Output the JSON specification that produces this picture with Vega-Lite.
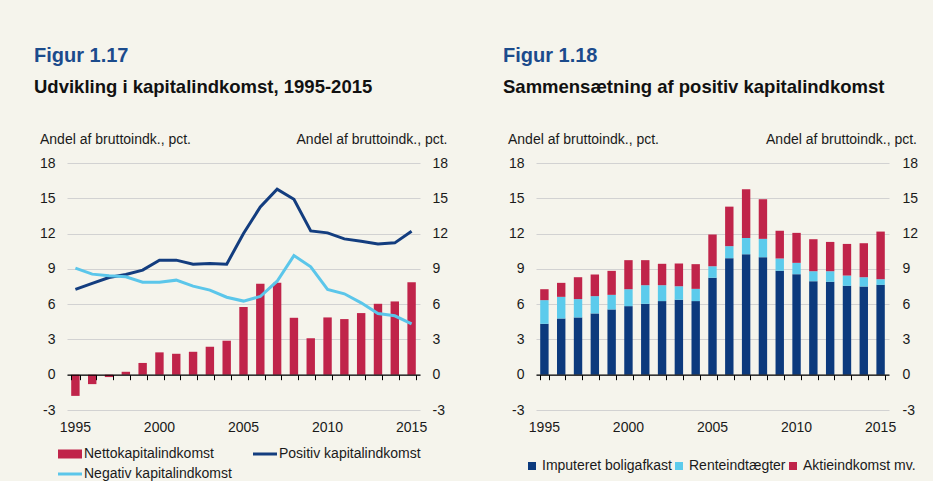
{
  "$schema": "https://vega.github.io/schema/vega-lite/v6.json",
  "background": "#f5f4ec",
  "padding": {"left": 34, "top": 45, "right": 15, "bottom": 0},
  "config": {
    "font": "Liberation Sans",
    "view": {"stroke": null},
    "axis": {"labelFont": "Liberation Sans", "titleFont": "Liberation Sans", "labelFontSize": 14, "titleFontSize": 14, "titleFontWeight": "normal", "labelColor": "#1a1a1a", "titleColor": "#1a1a1a"},
    "legend": {"labelFont": "Liberation Sans", "labelFontSize": 14, "labelColor": "#1a1a1a"},
    "title": {"anchor": "start", "frame": "group", "font": "Liberation Sans", "fontSize": 20, "fontWeight": "bold", "color": "#1b4b8c", "subtitleFont": "Liberation Sans", "subtitleFontSize": 18.5, "subtitleFontWeight": "bold", "subtitleColor": "#111111", "subtitlePadding": 12, "dx": -33, "offset": 36}
  },
  "datasets": {
    "netto": [
      {"year": 1995, "series": "Nettokapitalindkomst", "value": -1.8},
      {"year": 1996, "series": "Nettokapitalindkomst", "value": -0.8},
      {"year": 1997, "series": "Nettokapitalindkomst", "value": -0.2},
      {"year": 1998, "series": "Nettokapitalindkomst", "value": 0.25},
      {"year": 1999, "series": "Nettokapitalindkomst", "value": 1.0},
      {"year": 2000, "series": "Nettokapitalindkomst", "value": 1.9},
      {"year": 2001, "series": "Nettokapitalindkomst", "value": 1.78},
      {"year": 2002, "series": "Nettokapitalindkomst", "value": 1.95},
      {"year": 2003, "series": "Nettokapitalindkomst", "value": 2.38},
      {"year": 2004, "series": "Nettokapitalindkomst", "value": 2.89},
      {"year": 2005, "series": "Nettokapitalindkomst", "value": 5.75},
      {"year": 2006, "series": "Nettokapitalindkomst", "value": 7.73},
      {"year": 2007, "series": "Nettokapitalindkomst", "value": 7.81},
      {"year": 2008, "series": "Nettokapitalindkomst", "value": 4.84},
      {"year": 2009, "series": "Nettokapitalindkomst", "value": 3.11},
      {"year": 2010, "series": "Nettokapitalindkomst", "value": 4.87},
      {"year": 2011, "series": "Nettokapitalindkomst", "value": 4.73},
      {"year": 2012, "series": "Nettokapitalindkomst", "value": 5.24},
      {"year": 2013, "series": "Nettokapitalindkomst", "value": 6.03},
      {"year": 2014, "series": "Nettokapitalindkomst", "value": 6.23},
      {"year": 2015, "series": "Nettokapitalindkomst", "value": 7.87}
    ],
    "lines": [
      {"year": 1995, "series": "Positiv kapitalindkomst", "value": 7.25},
      {"year": 1996, "series": "Positiv kapitalindkomst", "value": 7.76},
      {"year": 1997, "series": "Positiv kapitalindkomst", "value": 8.26},
      {"year": 1998, "series": "Positiv kapitalindkomst", "value": 8.52},
      {"year": 1999, "series": "Positiv kapitalindkomst", "value": 8.89},
      {"year": 2000, "series": "Positiv kapitalindkomst", "value": 9.74},
      {"year": 2001, "series": "Positiv kapitalindkomst", "value": 9.74},
      {"year": 2002, "series": "Positiv kapitalindkomst", "value": 9.4},
      {"year": 2003, "series": "Positiv kapitalindkomst", "value": 9.45},
      {"year": 2004, "series": "Positiv kapitalindkomst", "value": 9.4},
      {"year": 2005, "series": "Positiv kapitalindkomst", "value": 12.0},
      {"year": 2006, "series": "Positiv kapitalindkomst", "value": 14.27},
      {"year": 2007, "series": "Positiv kapitalindkomst", "value": 15.77},
      {"year": 2008, "series": "Positiv kapitalindkomst", "value": 14.92},
      {"year": 2009, "series": "Positiv kapitalindkomst", "value": 12.23},
      {"year": 2010, "series": "Positiv kapitalindkomst", "value": 12.06},
      {"year": 2011, "series": "Positiv kapitalindkomst", "value": 11.55},
      {"year": 2012, "series": "Positiv kapitalindkomst", "value": 11.35},
      {"year": 2013, "series": "Positiv kapitalindkomst", "value": 11.12},
      {"year": 2014, "series": "Positiv kapitalindkomst", "value": 11.21},
      {"year": 2015, "series": "Positiv kapitalindkomst", "value": 12.2},
      {"year": 1995, "series": "Negativ kapitalindkomst", "value": 9.06},
      {"year": 1996, "series": "Negativ kapitalindkomst", "value": 8.55},
      {"year": 1997, "series": "Negativ kapitalindkomst", "value": 8.41},
      {"year": 1998, "series": "Negativ kapitalindkomst", "value": 8.32},
      {"year": 1999, "series": "Negativ kapitalindkomst", "value": 7.87},
      {"year": 2000, "series": "Negativ kapitalindkomst", "value": 7.87},
      {"year": 2001, "series": "Negativ kapitalindkomst", "value": 8.04},
      {"year": 2002, "series": "Negativ kapitalindkomst", "value": 7.53},
      {"year": 2003, "series": "Negativ kapitalindkomst", "value": 7.19},
      {"year": 2004, "series": "Negativ kapitalindkomst", "value": 6.59},
      {"year": 2005, "series": "Negativ kapitalindkomst", "value": 6.26},
      {"year": 2006, "series": "Negativ kapitalindkomst", "value": 6.65},
      {"year": 2007, "series": "Negativ kapitalindkomst", "value": 7.95},
      {"year": 2008, "series": "Negativ kapitalindkomst", "value": 10.13},
      {"year": 2009, "series": "Negativ kapitalindkomst", "value": 9.17},
      {"year": 2010, "series": "Negativ kapitalindkomst", "value": 7.25},
      {"year": 2011, "series": "Negativ kapitalindkomst", "value": 6.88},
      {"year": 2012, "series": "Negativ kapitalindkomst", "value": 6.11},
      {"year": 2013, "series": "Negativ kapitalindkomst", "value": 5.21},
      {"year": 2014, "series": "Negativ kapitalindkomst", "value": 5.01},
      {"year": 2015, "series": "Negativ kapitalindkomst", "value": 4.33}
    ],
    "comp": [
      {"year": 1995, "k": 0, "series": "Imputeret boligafkast", "value": 4.33},
      {"year": 1995, "k": 1, "series": "Renteindtægter", "value": 2.01},
      {"year": 1995, "k": 2, "series": "Aktieindkomst mv.", "value": 0.93},
      {"year": 1996, "k": 0, "series": "Imputeret boligafkast", "value": 4.78},
      {"year": 1996, "k": 1, "series": "Renteindtægter", "value": 1.84},
      {"year": 1996, "k": 2, "series": "Aktieindkomst mv.", "value": 1.19},
      {"year": 1997, "k": 0, "series": "Imputeret boligafkast", "value": 4.87},
      {"year": 1997, "k": 1, "series": "Renteindtægter", "value": 1.56},
      {"year": 1997, "k": 2, "series": "Aktieindkomst mv.", "value": 1.86},
      {"year": 1998, "k": 0, "series": "Imputeret boligafkast", "value": 5.21},
      {"year": 1998, "k": 1, "series": "Renteindtægter", "value": 1.47},
      {"year": 1998, "k": 2, "series": "Aktieindkomst mv.", "value": 1.84},
      {"year": 1999, "k": 0, "series": "Imputeret boligafkast", "value": 5.55},
      {"year": 1999, "k": 1, "series": "Renteindtægter", "value": 1.24},
      {"year": 1999, "k": 2, "series": "Aktieindkomst mv.", "value": 2.04},
      {"year": 2000, "k": 0, "series": "Imputeret boligafkast", "value": 5.83},
      {"year": 2000, "k": 1, "series": "Renteindtægter", "value": 1.44},
      {"year": 2000, "k": 2, "series": "Aktieindkomst mv.", "value": 2.47},
      {"year": 2001, "k": 0, "series": "Imputeret boligafkast", "value": 6.03},
      {"year": 2001, "k": 1, "series": "Renteindtægter", "value": 1.58},
      {"year": 2001, "k": 2, "series": "Aktieindkomst mv.", "value": 2.13},
      {"year": 2002, "k": 0, "series": "Imputeret boligafkast", "value": 6.26},
      {"year": 2002, "k": 1, "series": "Renteindtægter", "value": 1.35},
      {"year": 2002, "k": 2, "series": "Aktieindkomst mv.", "value": 1.82},
      {"year": 2003, "k": 0, "series": "Imputeret boligafkast", "value": 6.37},
      {"year": 2003, "k": 1, "series": "Renteindtægter", "value": 1.16},
      {"year": 2003, "k": 2, "series": "Aktieindkomst mv.", "value": 1.92},
      {"year": 2004, "k": 0, "series": "Imputeret boligafkast", "value": 6.26},
      {"year": 2004, "k": 1, "series": "Renteindtægter", "value": 1.04},
      {"year": 2004, "k": 2, "series": "Aktieindkomst mv.", "value": 2.1},
      {"year": 2005, "k": 0, "series": "Imputeret boligafkast", "value": 8.24},
      {"year": 2005, "k": 1, "series": "Renteindtægter", "value": 0.99},
      {"year": 2005, "k": 2, "series": "Aktieindkomst mv.", "value": 2.69},
      {"year": 2006, "k": 0, "series": "Imputeret boligafkast", "value": 9.91},
      {"year": 2006, "k": 1, "series": "Renteindtægter", "value": 1.02},
      {"year": 2006, "k": 2, "series": "Aktieindkomst mv.", "value": 3.36},
      {"year": 2007, "k": 0, "series": "Imputeret boligafkast", "value": 10.25},
      {"year": 2007, "k": 1, "series": "Renteindtægter", "value": 1.38},
      {"year": 2007, "k": 2, "series": "Aktieindkomst mv.", "value": 4.14},
      {"year": 2008, "k": 0, "series": "Imputeret boligafkast", "value": 9.99},
      {"year": 2008, "k": 1, "series": "Renteindtægter", "value": 1.56},
      {"year": 2008, "k": 2, "series": "Aktieindkomst mv.", "value": 3.37},
      {"year": 2009, "k": 0, "series": "Imputeret boligafkast", "value": 8.83},
      {"year": 2009, "k": 1, "series": "Renteindtægter", "value": 1.05},
      {"year": 2009, "k": 2, "series": "Aktieindkomst mv.", "value": 2.35},
      {"year": 2010, "k": 0, "series": "Imputeret boligafkast", "value": 8.55},
      {"year": 2010, "k": 1, "series": "Renteindtægter", "value": 0.96},
      {"year": 2010, "k": 2, "series": "Aktieindkomst mv.", "value": 2.55},
      {"year": 2011, "k": 0, "series": "Imputeret boligafkast", "value": 7.95},
      {"year": 2011, "k": 1, "series": "Renteindtægter", "value": 0.85},
      {"year": 2011, "k": 2, "series": "Aktieindkomst mv.", "value": 2.72},
      {"year": 2012, "k": 0, "series": "Imputeret boligafkast", "value": 7.9},
      {"year": 2012, "k": 1, "series": "Renteindtægter", "value": 0.9},
      {"year": 2012, "k": 2, "series": "Aktieindkomst mv.", "value": 2.49},
      {"year": 2013, "k": 0, "series": "Imputeret boligafkast", "value": 7.56},
      {"year": 2013, "k": 1, "series": "Renteindtægter", "value": 0.87},
      {"year": 2013, "k": 2, "series": "Aktieindkomst mv.", "value": 2.69},
      {"year": 2014, "k": 0, "series": "Imputeret boligafkast", "value": 7.5},
      {"year": 2014, "k": 1, "series": "Renteindtægter", "value": 0.79},
      {"year": 2014, "k": 2, "series": "Aktieindkomst mv.", "value": 2.89},
      {"year": 2015, "k": 0, "series": "Imputeret boligafkast", "value": 7.64},
      {"year": 2015, "k": 1, "series": "Renteindtægter", "value": 0.48},
      {"year": 2015, "k": 2, "series": "Aktieindkomst mv.", "value": 4.05}
    ]
  },
  "spacing": 55,
  "hconcat": [
    {
      "title": {"text": "Figur 1.17", "subtitle": "Udvikling i kapitalindkomst, 1995-2015"},
      "width": 353,
      "height": 247,
      "layer": [
        {
          "data": {"name": "netto"},
          "mark": {"type": "bar"},
          "encoding": {
            "x": {"field": "year", "type": "ordinal", "scale": {"paddingInner": 0.5, "paddingOuter": 0.25},
              "axis": {"orient": "bottom", "values": [1995, 2000, 2005, 2010, 2015], "labelAngle": 0, "domain": false, "ticks": false, "grid": false, "labelPadding": 10, "title": null}},
            "y": {"field": "value", "type": "quantitative", "scale": {"domain": [-3, 18], "nice": false, "zero": false},
              "axis": {"orient": "left", "values": [-3, 0, 3, 6, 9, 12, 15, 18], "labelExpr": "'' + datum.value", "grid": true, "gridColor": "#d2d2d2", "domain": false, "ticks": false, "labelPadding": 12, "title": "Andel af bruttoindk., pct.", "titleAngle": 0, "titleAlign": "left", "titleBaseline": "alphabetic", "titleX": -27.5, "titleY": -20}},
            "color": {"field": "series", "type": "nominal",
              "scale": {"domain": ["Nettokapitalindkomst", "Positiv kapitalindkomst", "Negativ kapitalindkomst"], "range": ["#c0244a", "#133d7f", "#5bc6ea"]},
              "legend": {"orient": "none", "legendX": -9, "legendY": 279, "direction": "horizontal", "columns": 2, "columnPadding": 21, "rowPadding": 1, "labelOffset": 2, "symbolSize": 576, "title": null,
                "encode": {"symbols": {"update": {
                  "shape": {"signal": "datum.value === 'Nettokapitalindkomst' ? 'M-1,-0.375H1V0.375H-1Z' : 'M-1,-0.125H1V0.125H-1Z'"},
                  "fill": {"signal": "datum.value === 'Nettokapitalindkomst' ? '#c0244a' : datum.value === 'Positiv kapitalindkomst' ? '#133d7f' : '#5bc6ea'"},
                  "strokeWidth": {"value": 0},
                  "opacity": {"value": 1},
                  "fillOpacity": {"value": 1}
                }}}}
            }
          }
        },
        {
          "data": {"name": "lines"},
          "mark": {"type": "line", "strokeWidth": 3},
          "encoding": {
            "x": {"field": "year", "type": "ordinal",
              "axis": {"orient": "bottom", "offset": -35.3, "labels": false, "domain": true, "domainColor": "#000000", "domainWidth": 1.2, "ticks": true, "tickBand": "extent", "tickColor": "#000000", "tickSize": 5, "grid": false, "title": null, "zindex": 1}},
            "y": {"field": "value", "type": "quantitative",
              "axis": {"orient": "right", "values": [-3, 0, 3, 6, 9, 12, 15, 18], "labelExpr": "'' + datum.value", "grid": false, "domain": false, "ticks": false, "labelPadding": 12, "title": "Andel af bruttoindk., pct.", "titleAngle": 0, "titleAlign": "right", "titleBaseline": "alphabetic", "titleX": 27, "titleY": -20}},
            "color": {"field": "series", "type": "nominal"}
          }
        }
      ],
      "resolve": {"axis": {"x": "independent", "y": "independent"}}
    },
    {
      "title": {"text": "Figur 1.18", "subtitle": "Sammensætning af positiv kapitalindkomst"},
      "width": 353,
      "height": 247,
      "data": {"name": "comp"},
      "layer": [
        {
          "mark": {"type": "bar"},
          "encoding": {
            "x": {"field": "year", "type": "ordinal", "scale": {"paddingInner": 0.5, "paddingOuter": 0.25},
              "axis": {"orient": "bottom", "values": [1995, 2000, 2005, 2010, 2015], "labelAngle": 0, "domain": false, "ticks": false, "grid": false, "labelPadding": 10, "title": null}},
            "y": {"field": "value", "type": "quantitative", "stack": "zero", "scale": {"domain": [-3, 18], "nice": false, "zero": false},
              "axis": {"orient": "left", "values": [-3, 0, 3, 6, 9, 12, 15, 18], "labelExpr": "'' + datum.value", "grid": true, "gridColor": "#d2d2d2", "domain": false, "ticks": false, "labelPadding": 12, "title": "Andel af bruttoindk., pct.", "titleAngle": 0, "titleAlign": "left", "titleBaseline": "alphabetic", "titleX": -28.5, "titleY": -20}},
            "order": {"field": "k", "type": "quantitative"},
            "color": {"field": "series", "type": "nominal",
              "scale": {"domain": ["Imputeret boligafkast", "Renteindtægter", "Aktieindkomst mv."], "range": ["#0c3a7d", "#5ccbec", "#c0244a"]},
              "legend": {"orient": "none", "legendX": -11, "legendY": 296, "direction": "horizontal", "columnPadding": 0, "labelOffset": 3, "symbolType": "square", "symbolSize": 64, "symbolStrokeWidth": 0, "title": null}}
          }
        },
        {
          "mark": {"type": "bar", "opacity": 0},
          "encoding": {
            "x": {"field": "year", "type": "ordinal",
              "axis": {"orient": "bottom", "offset": -35.3, "labels": false, "domain": true, "domainColor": "#000000", "domainWidth": 1.2, "ticks": true, "tickBand": "extent", "tickColor": "#000000", "tickSize": 5, "grid": false, "title": null, "zindex": 1}},
            "y": {"field": "value", "type": "quantitative", "stack": "zero",
              "axis": {"orient": "right", "values": [-3, 0, 3, 6, 9, 12, 15, 18], "labelExpr": "'' + datum.value", "grid": false, "domain": false, "ticks": false, "labelPadding": 13, "title": "Andel af bruttoindk., pct.", "titleAngle": 0, "titleAlign": "right", "titleBaseline": "alphabetic", "titleX": 27.5, "titleY": -20}}
          }
        }
      ],
      "resolve": {"axis": {"x": "independent", "y": "independent"}}
    }
  ],
  "resolve": {"scale": {"color": "independent"}}
}
